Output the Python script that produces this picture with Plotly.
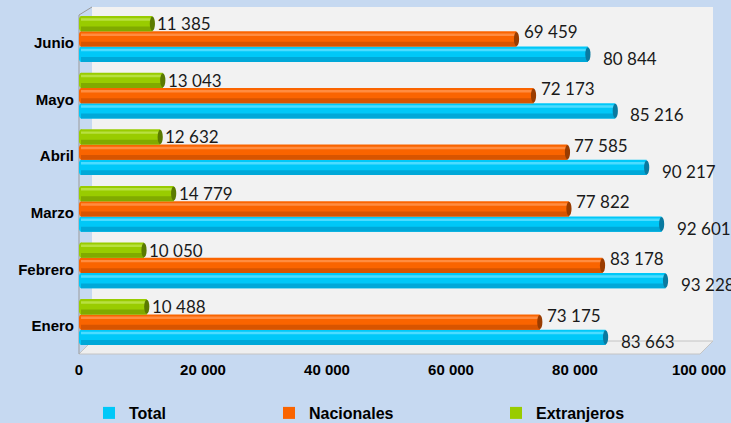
import plotly.graph_objects as go

# ---- data ----
months = ["Enero", "Febrero", "Marzo", "Abril", "Mayo", "Junio"]
total = [83663, 93228, 92601, 90217, 85216, 80844]
nacionales = [73175, 83178, 77822, 77585, 72173, 69459]
extranjeros = [10488, 10050, 14779, 12632, 13043, 11385]
series_names = ["Total", "Nacionales", "Extranjeros"]
axis_ticks = [0, 20000, 40000, 60000, 80000, 100000]

# ---- geometry / style ----
W, H = 731, 423
L, R, T, B = 79, 713, 7, 354
BG = "#c6d9f1"
WALL = "#f2f2f2"
SCALE = 0.00627           # px per data unit for the bars (primary axis)
TICK_SCALE = 0.0062       # px per data unit for the front tick labels

def px_x(p):
    return (p - L) / (R - L)

def px_y(p):
    return (B - p) / (B - T)

styles = [
    dict(main="#00c8f8", dark="#00a8d8", light="#4cdcff", cap="#0a7aa0", legend="legend",
         xshift=13, yshift=-4),
    dict(main="#fa6400", dark="#d85400", light="#ff8c40", cap="#9a3c00", legend="legend2",
         xshift=5, yshift=7),
    dict(main="#99cc00", dark="#80aa00", light="#b8e040", cap="#5a7a00", legend="legend3",
         xshift=3, yshift=0),
]
data = [total, nacionales, extranjeros]
bw = 0.27
ypos = list(range(len(months)))
cap_dx = 2.6 / SCALE

fig = go.Figure()
shapes = []
annotations = []

# back wall and floor
shapes.append(dict(type="rect", xref="paper", yref="paper",
                   x0=px_x(92), x1=px_x(713), y0=px_y(341), y1=px_y(7),
                   fillcolor=WALL, line=dict(width=0), layer="below"))
shapes.append(dict(type="path", xref="paper", yref="paper",
                   path=f"M{px_x(79)},{px_y(354)} L{px_x(92)},{px_y(341)} L{px_x(713)},{px_y(341)} L{px_x(700)},{px_y(354)} Z",
                   fillcolor="#efefef", line=dict(color="#c4c4c4", width=1), layer="below"))
shapes.append(dict(type="path", xref="paper", yref="paper",
                   path=f"M{px_x(79)},{px_y(354)} L{px_x(79)},{px_y(15)} L{px_x(92)},{px_y(7)}",
                   line=dict(color="#9a9a9a", width=1), layer="below"))

for j, (name, vals, st) in enumerate(zip(series_names, data, styles)):
    c = (j - 1) * bw
    base = c - bw / 2
    fig.add_trace(go.Bar(x=vals, y=ypos, orientation="h", name=name, width=bw, offset=base,
                         marker=dict(color=st["main"], line=dict(width=0)),
                         legend=st["legend"], hoverinfo="skip"))
    fig.add_trace(go.Bar(x=vals, y=ypos, orientation="h", width=bw * 0.32, offset=base,
                         marker=dict(color=st["dark"], line=dict(width=0)),
                         showlegend=False, hoverinfo="skip"))
    fig.add_trace(go.Bar(x=vals, y=ypos, orientation="h", width=bw * 0.16, offset=base + bw * 0.70,
                         marker=dict(color=st["light"], line=dict(width=0)),
                         showlegend=False, hoverinfo="skip"))
    for i, v in zip(ypos, vals):
        yc = i + c
        # rounded start of cylinder
        shapes.append(dict(type="circle", xref="x", yref="y",
                           x0=-cap_dx, x1=cap_dx, y0=yc - bw / 2, y1=yc + bw / 2,
                           fillcolor=st["main"], line=dict(width=0), layer="below"))
        # end cap
        shapes.append(dict(type="circle", xref="x", yref="y",
                           x0=v - cap_dx, x1=v + cap_dx, y0=yc - bw / 2 + 0.01, y1=yc + bw / 2 - 0.01,
                           fillcolor=st["cap"], line=dict(width=0), layer="above"))
        annotations.append(dict(x=v, y=yc, xref="x", yref="y", xanchor="left", yanchor="middle",
                                text=f"{v:,}".replace(",", " "), showarrow=False,
                                xshift=st["xshift"], yshift=st["yshift"],
                                font=dict(family="Lato, Open Sans, sans-serif", size=17, color="#1a1a1a")))

# invisible helper trace so the front tick-label axis is created (draws nothing)
fig.add_trace(go.Scatter(x=axis_ticks, y=[None] * len(axis_ticks), mode="markers",
                         xaxis="x2", showlegend=False, hoverinfo="skip"))

bold = dict(family="Liberation Sans, Arial, sans-serif", size=15, color="#000000", weight="bold")
legend_font = dict(family="Liberation Sans, Arial, sans-serif", size=16, color="#000000", weight="bold")

fig.update_layout(
    width=W, height=H,
    margin=dict(l=L, r=W - R, t=T, b=H - B, pad=0, autoexpand=False),
    paper_bgcolor=BG, plot_bgcolor="rgba(0,0,0,0)",
    barmode="overlay",
    separators=", ",
    shapes=shapes, annotations=annotations,
    xaxis=dict(range=[-(81 - L) / SCALE, -(81 - L) / SCALE + (R - L) / SCALE],
               showticklabels=False, showgrid=False, zeroline=False, showline=False, ticks=""),
    xaxis2=dict(overlaying="x", anchor="y", side="bottom",
                range=[0, (R - L) / TICK_SCALE], tickvals=axis_ticks, tickformat=",d",
                showgrid=False, zeroline=False, showline=False, ticks="",
                tickfont=bold, ticklabelstandoff=5),
    yaxis=dict(range=[-0.565, 5.565], tickvals=ypos, ticktext=months,
               showgrid=False, zeroline=False, showline=False, ticks="",
               tickfont=bold, ticklabelstandoff=4, ticklabelshift=4),
    legend=dict(orientation="h", x=px_x(89), y=px_y(413), xanchor="left", yanchor="middle",
                font=legend_font, bgcolor="rgba(0,0,0,0)", itemwidth=30),
    legend2=dict(orientation="h", x=px_x(269), y=px_y(413), xanchor="left", yanchor="middle",
                 font=legend_font, bgcolor="rgba(0,0,0,0)", itemwidth=30),
    legend3=dict(orientation="h", x=px_x(496), y=px_y(413), xanchor="left", yanchor="middle",
                 font=legend_font, bgcolor="rgba(0,0,0,0)", itemwidth=30),
)

fig.write_html("out.html", config={"displayModeBar": False},
               post_script="document.body.style.margin='0';document.body.style.overflow='hidden';")
